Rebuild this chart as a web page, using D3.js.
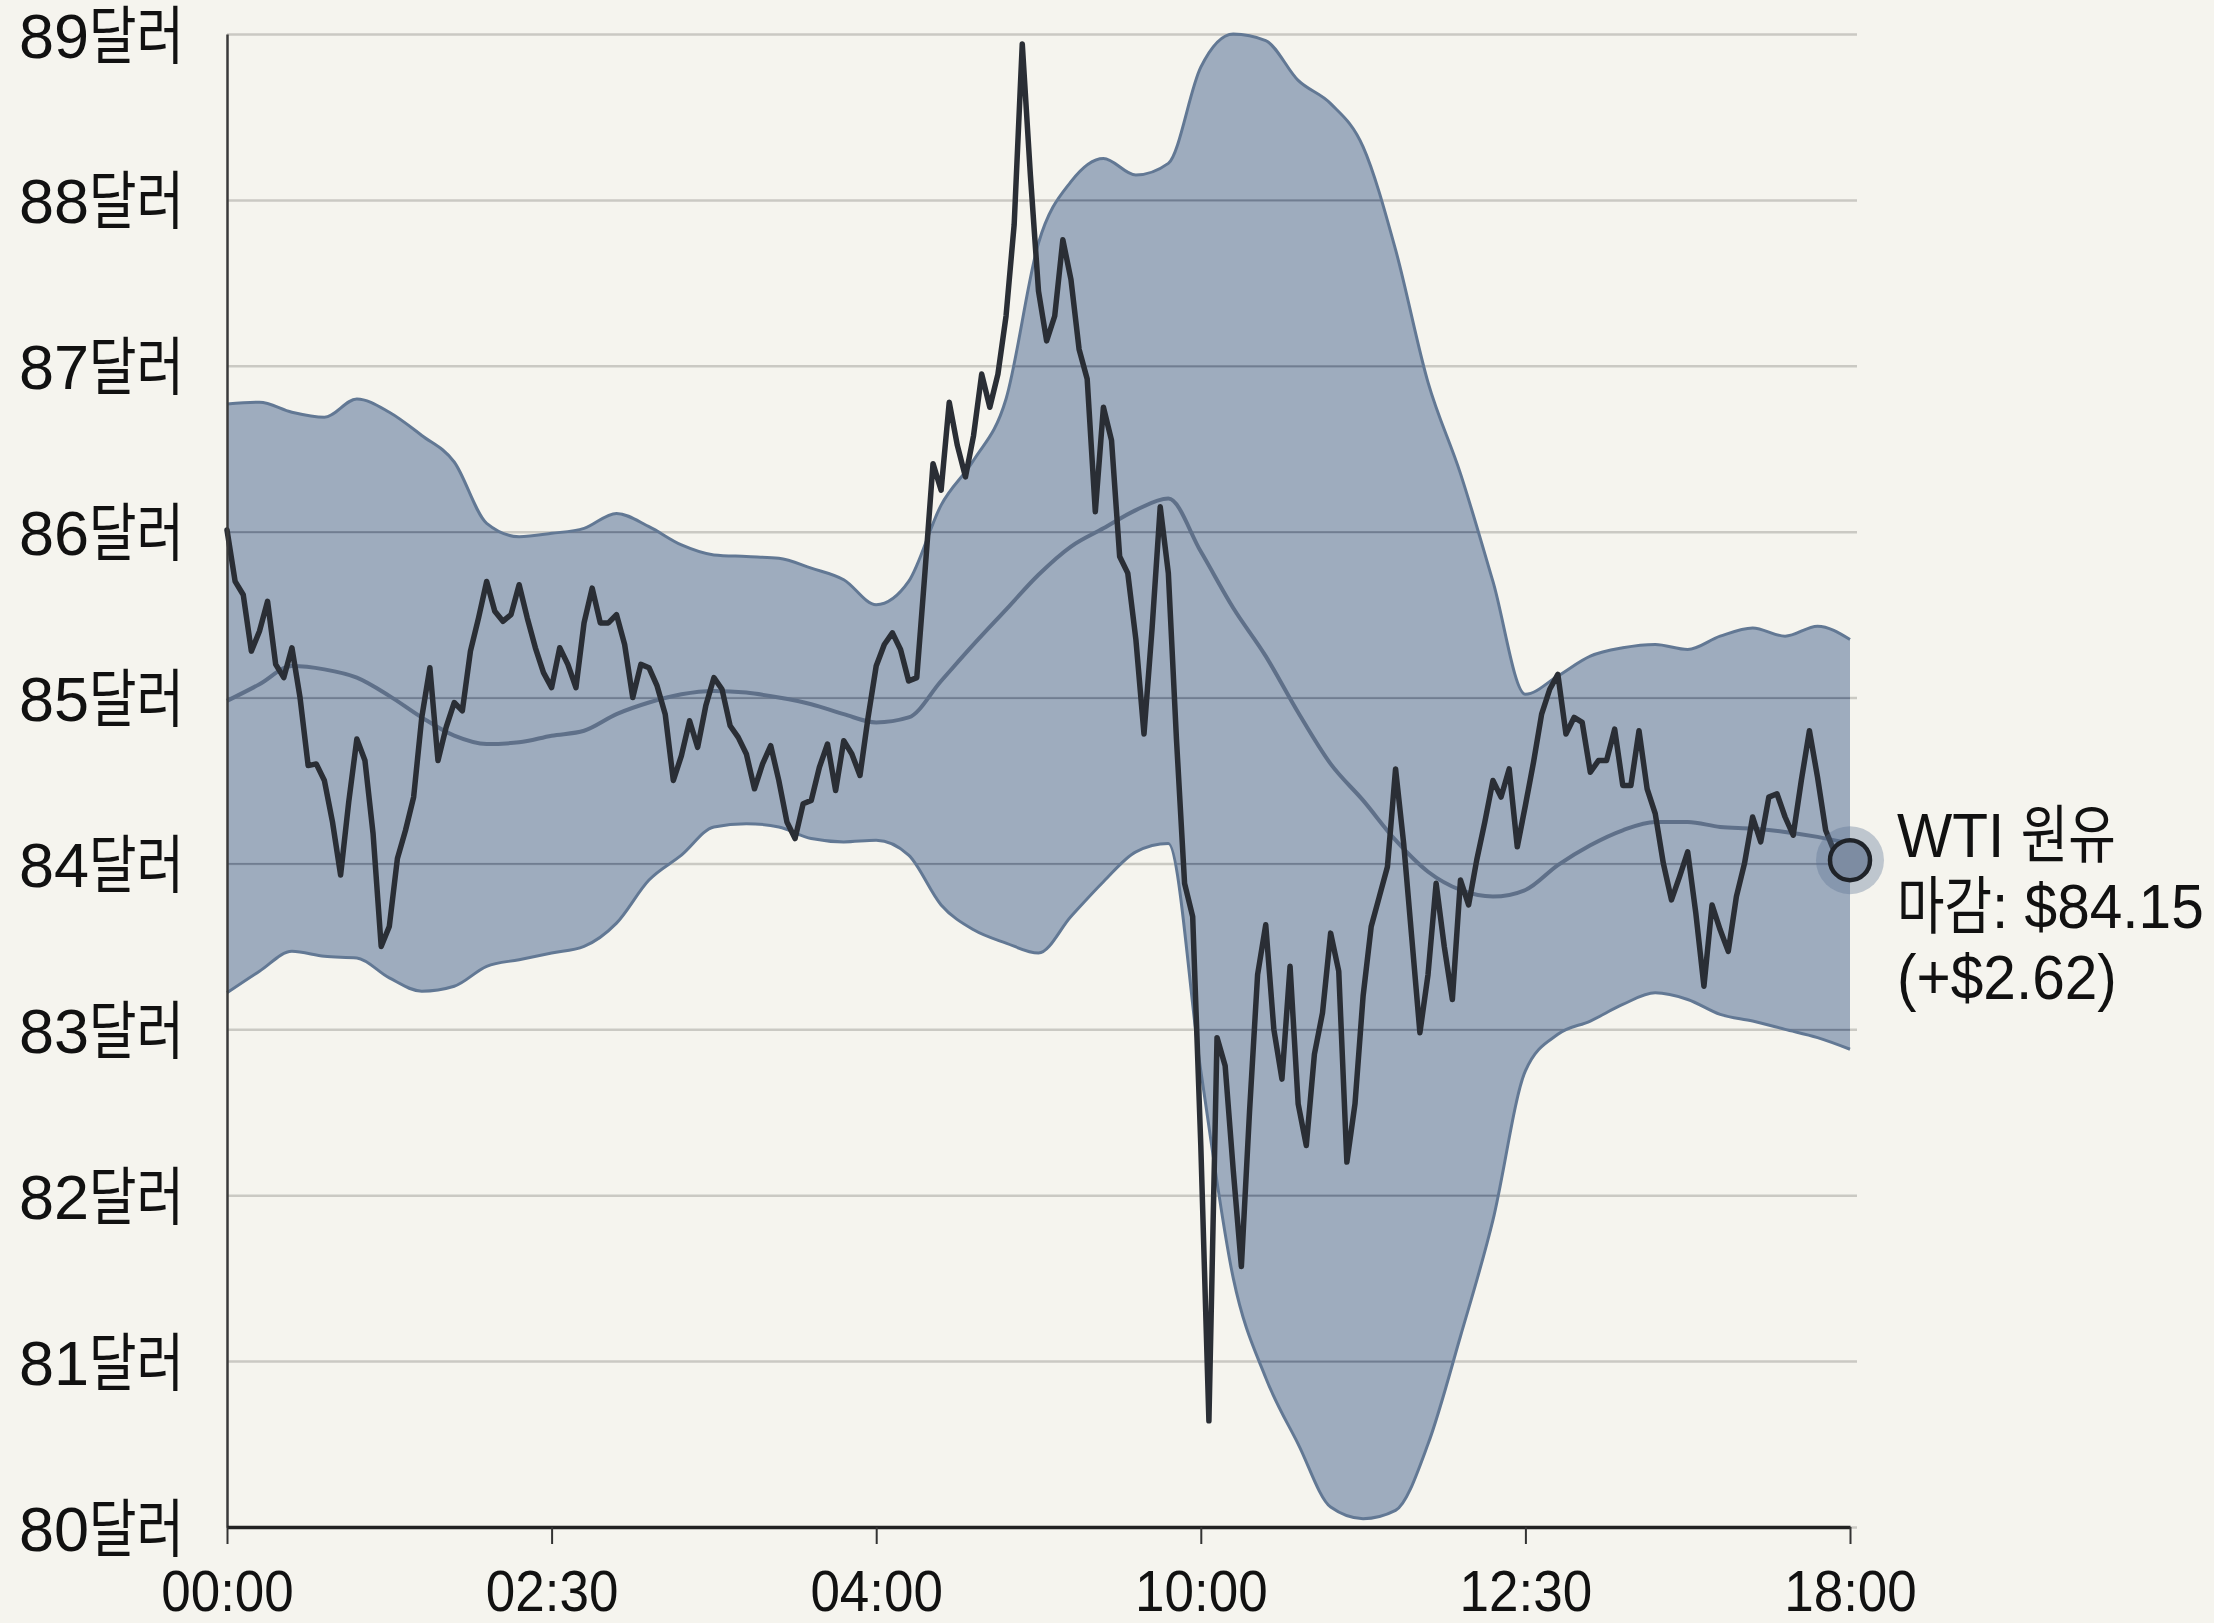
<!DOCTYPE html>
<html>
<head>
<meta charset="utf-8">
<script src="https://cdn.jsdelivr.net/npm/d3@7"></script>
<style>
  html, body { margin: 0; padding: 0; background: #f5f4ee; }
  svg { display: block; }
</style>
</head>
<body>
<svg id="chart" width="2214" height="1623"></svg>
<script>
// x axis: sample index, labelled at a few points
const timeLabels = ['00:00', '02:30', '04:00', '10:00', '12:30', '18:00'];
const labelIdx = [0, 40, 80, 120, 160, 200];
const yTicks = [80, 81, 82, 83, 84, 85, 86, 87, 88, 89];

// WTI price, one value per sample
const price = [
  86.01, 85.70, 85.62, 85.28, 85.40, 85.58, 85.20, 85.12, 85.30, 85.00,
  84.59, 84.60, 84.50, 84.25, 83.93, 84.37, 84.75, 84.62, 84.18, 83.50,
  83.62, 84.03, 84.20, 84.40, 84.88, 85.18, 84.62, 84.82, 84.97, 84.92,
  85.28, 85.48, 85.70, 85.52, 85.46, 85.50, 85.68, 85.48, 85.30, 85.15,
  85.06, 85.30, 85.20, 85.06, 85.45, 85.66, 85.45, 85.45, 85.50, 85.32,
  85.00, 85.20, 85.18, 85.07, 84.90, 84.50, 84.65, 84.86, 84.70, 84.95,
  85.12, 85.05, 84.83, 84.76, 84.66, 84.45, 84.60, 84.71, 84.50, 84.25,
  84.15, 84.36, 84.38, 84.58, 84.72, 84.44, 84.74, 84.66, 84.53, 84.88,
  85.19, 85.32, 85.39, 85.29, 85.10, 85.12, 85.75, 86.41, 86.25, 86.78,
  86.52, 86.33, 86.58, 86.95, 86.75, 86.95, 87.30, 87.85, 88.94, 88.15,
  87.45, 87.15, 87.30, 87.76, 87.52, 87.10, 86.92, 86.12, 86.75, 86.55,
  85.85, 85.75, 85.35, 84.78, 85.42, 86.15, 85.75, 84.75, 83.88, 83.68,
  82.30, 80.64, 82.95, 82.78, 82.15, 81.57, 82.50, 83.33, 83.63, 83.00,
  82.70, 83.38, 82.55, 82.30, 82.85, 83.10, 83.58, 83.35, 82.20, 82.55,
  83.20, 83.62, 83.80, 83.98, 84.57, 84.12, 83.55, 82.98, 83.33, 83.88,
  83.50, 83.18, 83.90, 83.75, 84.02, 84.25, 84.50, 84.40, 84.57, 84.10,
  84.35, 84.61, 84.90, 85.05, 85.14, 84.78, 84.88, 84.85, 84.55, 84.62,
  84.62, 84.81, 84.47, 84.47, 84.80, 84.45, 84.30, 84.00, 83.78, 83.92,
  84.07, 83.70, 83.26, 83.75, 83.60, 83.47, 83.80, 84.00, 84.28, 84.13,
  84.40, 84.42, 84.28, 84.17, 84.50, 84.80, 84.52, 84.20, 84.08, 84.00,
  84.02
];

// band and moving average are sampled every bandStep samples
const bandStep = 4;
const upper = [
  86.77, 86.78, 86.72, 86.69, 86.80, 86.72, 86.58, 86.42, 86.05, 85.97,
  85.99, 86.02, 86.11, 86.03, 85.92, 85.86, 85.85, 85.84, 85.78, 85.71,
  85.56, 85.70, 86.16, 86.43, 86.80, 87.74, 88.11, 88.25, 88.15, 88.22,
  88.80, 89.00, 88.96, 88.72, 88.58, 88.32, 87.70, 86.90, 86.35, 85.70,
  85.02, 85.13, 85.25, 85.30, 85.32, 85.29, 85.37, 85.42, 85.37, 85.43,
  85.35
];
const lower = [
  83.22, 83.35, 83.47, 83.44, 83.43, 83.31, 83.23, 83.26, 83.38, 83.42,
  83.46, 83.50, 83.64, 83.90, 84.05, 84.22, 84.24, 84.22, 84.15, 84.13,
  84.14, 84.05, 83.75, 83.60, 83.52, 83.46, 83.68, 83.89, 84.07, 84.12,
  82.75, 81.50, 80.90, 80.50, 80.12, 80.05, 80.10, 80.50, 81.15, 81.85,
  82.75, 82.97, 83.05, 83.15, 83.22, 83.18, 83.09, 83.05, 83.00, 82.95,
  82.88
];
const avg = [
  84.98, 85.08, 85.19, 85.17, 85.12, 85.01, 84.88, 84.77, 84.72, 84.73,
  84.77, 84.80, 84.90, 84.97, 85.02, 85.04, 85.03, 85.00, 84.96, 84.90,
  84.85, 84.88, 85.10, 85.32, 85.53, 85.74, 85.91, 86.02, 86.13, 86.20,
  85.88, 85.54, 85.25, 84.91, 84.60, 84.38, 84.14, 83.95, 83.84, 83.80,
  83.84, 83.99, 84.11, 84.20, 84.25, 84.25, 84.22, 84.21, 84.19, 84.16,
  84.12
];

const endLabel = ['WTI 원유', '마감: $84.15', '(+$2.62)'];

const FONT = '"Liberation Sans", "Noto Sans CJK KR", sans-serif';
const plotLeft = 227, plotRight = 1850, plotTop = 34, plotBottom = 1527, gridRight = 1857;

const svg = d3.select('#chart').style('font-family', FONT);

const x = d3.scaleLinear().domain([0, price.length - 1]).range([plotLeft, plotRight]);
const y = d3.scaleLinear().domain([80, 89]).range([plotBottom, plotTop]);

// Latin and Hangul runs get their own horizontal squeeze
function mixedText(parent, str, size, latinScale, cjkScale, anchor) {
  const inner = parent.append('g');
  let cursor = 0;
  for (const run of str.match(/[\uac00-\ud7a3]+|[^\uac00-\ud7a3]+/g)) {
    const s = /[\uac00-\ud7a3]/.test(run) ? cjkScale : latinScale;
    const t = inner.append('text')
      .attr('transform', `translate(${cursor},0) scale(${s},1)`)
      .attr('text-anchor', 'start')
      .attr('font-size', size)
      .attr('font-family', FONT)
      .attr('fill', '#111')
      .style('white-space', 'pre')
      .text(run);
    cursor += t.node().getComputedTextLength() * s;
  }
  if (anchor === 'end') inner.attr('transform', `translate(${-cursor},0)`);
  return cursor;
}

const gridAxis = () => d3.axisLeft(y).tickValues(yTicks).tickSize(-(gridRight - plotLeft)).tickFormat('');

// grid under the band
svg.append('g')
  .attr('transform', `translate(${plotLeft},0)`)
  .call(gridAxis())
  .call(g => g.select('.domain').remove())
  .call(g => g.selectAll('line').attr('stroke', '#cac9c3').attr('stroke-width', 2.5));

// band
const band = upper.map((u, k) => ({i: k * bandStep, u: u, l: lower[k]}));
const bandArea = d3.area()
  .x(d => x(d.i))
  .y0(d => y(d.l))
  .y1(d => y(d.u))
  .curve(d3.curveMonotoneX);

svg.append('clipPath').attr('id', 'band-clip')
  .append('path').datum(band).attr('d', bandArea);

svg.append('path')
  .datum(band)
  .attr('fill', 'rgb(100,124,158)')
  .attr('fill-opacity', 0.6)
  .attr('d', bandArea);

// grid lines seen through the band
svg.append('g')
  .attr('clip-path', 'url(#band-clip)')
  .append('g')
  .attr('transform', `translate(${plotLeft},0)`)
  .call(gridAxis())
  .call(g => g.select('.domain').remove())
  .call(g => g.selectAll('line').attr('stroke', '#5d6b7e').attr('stroke-opacity', 0.6).attr('stroke-width', 1.8));

['u', 'l'].forEach(key => {
  svg.append('path')
    .datum(band)
    .attr('fill', 'none')
    .attr('stroke', '#627894')
    .attr('stroke-width', 3)
    .attr('d', d3.line().x(d => x(d.i)).y(d => y(d[key])).curve(d3.curveMonotoneX));
});

// moving average
svg.append('path')
  .datum(avg)
  .attr('fill', 'none')
  .attr('stroke', '#5f7089')
  .attr('stroke-width', 4)
  .attr('d', d3.line().x((d, k) => x(k * bandStep)).y(d => y(d)).curve(d3.curveMonotoneX));

// price
svg.append('path')
  .datum(price)
  .attr('fill', 'none')
  .attr('stroke', '#2a2e35')
  .attr('stroke-width', 5.5)
  .attr('stroke-linejoin', 'round')
  .attr('stroke-linecap', 'round')
  .attr('d', d3.line().x((d, k) => x(k)).y(d => y(d)));

// y axis
const yAxis = svg.append('g')
  .attr('transform', `translate(${plotLeft},0)`)
  .call(d3.axisLeft(y).tickValues(yTicks).tickSize(0).tickFormat(''));
yAxis.select('.domain').attr('stroke', '#3a3a3a').attr('stroke-width', 2.5);
yAxis.selectAll('.tick').each(function (d) {
  const g = d3.select(this).append('g').attr('transform', 'translate(-43,23)');
  mixedText(g, d + '달러', 63, 1.0, 0.82, 'end');
});

// x axis
const xAxis = svg.append('g')
  .attr('transform', `translate(0,${plotBottom})`)
  .call(d3.axisBottom(x)
    .tickValues(labelIdx)
    .tickFormat((d, k) => timeLabels[k])
    .tickSizeInner(17)
    .tickSizeOuter(0)
    .tickPadding(27));
xAxis.select('.domain').attr('stroke', '#222').attr('stroke-width', 3.5);
xAxis.selectAll('.tick line').attr('stroke', '#333').attr('stroke-width', 2);
xAxis.selectAll('.tick text')
  .attr('font-size', 57)
  .attr('font-family', FONT)
  .attr('fill', '#111')
  .attr('transform', 'scale(0.93,1)');

// end point marker
const last = price.length - 1;
svg.append('circle')
  .attr('cx', x(last)).attr('cy', y(price[last]))
  .attr('r', 34)
  .attr('fill', 'rgb(90,112,145)')
  .attr('fill-opacity', 0.35);
svg.append('circle')
  .attr('cx', x(last)).attr('cy', y(price[last]))
  .attr('r', 20)
  .attr('fill', '#7d8ca2')
  .attr('stroke', '#1f2329')
  .attr('stroke-width', 4.5);

// end label
endLabel.forEach((line, k) => {
  const g = svg.append('g').attr('transform', `translate(1897,${857 + k * 71})`);
  mixedText(g, line, 63, 0.93, 0.82, 'start');
});
</script>
</body>
</html>
